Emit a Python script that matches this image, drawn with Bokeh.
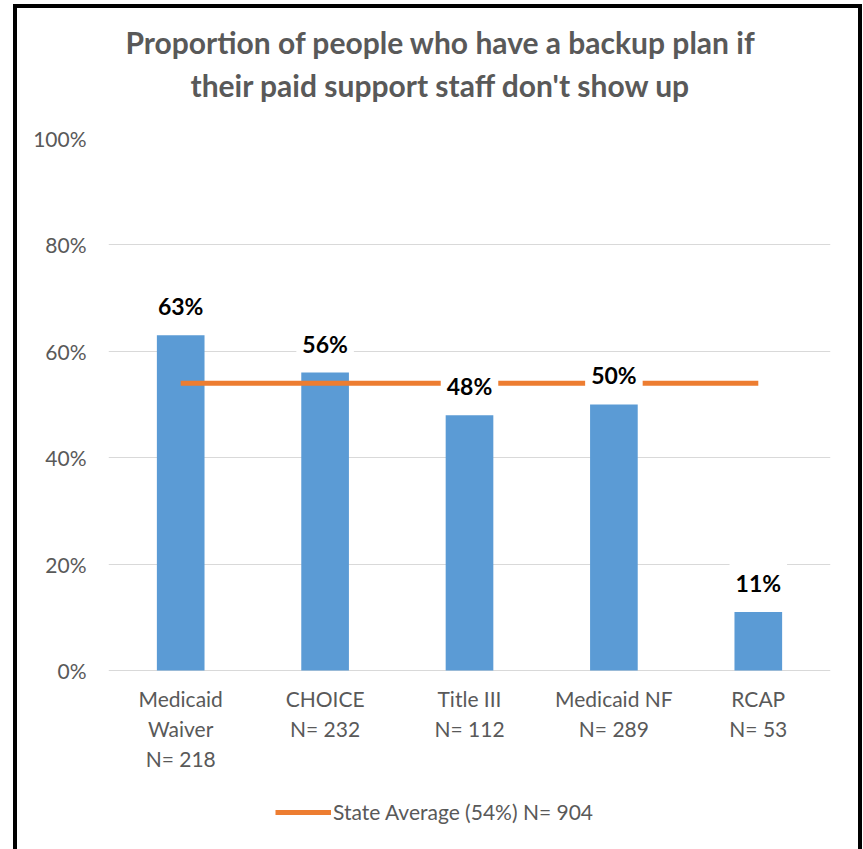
from bokeh.plotting import figure
from bokeh.models import ColumnDataSource, Title, Legend, LegendItem, FactorRange, NumeralTickFormatter
from bokeh.core.properties import value
from bokeh.embed import file_html
from bokeh.resources import INLINE

categories = ["Medicaid\nWaiver\nN= 218", "CHOICE\nN= 232", "Title III\nN= 112", "Medicaid NF\nN= 289", "RCAP\nN= 53"]
shares = [0.63, 0.56, 0.48, 0.50, 0.11]
share_labels = ["63%", "56%", "48%", "50%", "11%"]
state_average = 0.54
legend_text = "State Average (54%) N= 904"
title_lines = ["Proportion of people who have a backup plan if", "their paid support staff don't show up"]
y_ticks = [0, 0.2, 0.4, 0.6, 0.8, 1.0]

FONT = "Lato"
GRAY = "#595959"

src = ColumnDataSource(data=dict(cat=categories, val=shares, lab=share_labels, base=[0] * len(categories)))
avg_src = ColumnDataSource(data=dict(cat=categories, avg=[state_average] * len(categories)))

# frame extends below 0 so the category labels and legend sit inside it
p = figure(
    x_range=FactorRange(*categories, range_padding=0),
    y_range=(-0.3365, 1.0),
    frame_width=722, frame_height=711,
    min_border_left=91, min_border_top=130, min_border_right=28, min_border_bottom=0,
    output_backend="svg", toolbar_location=None,
    background_fill_color="white", border_fill_color="white",
)
p.styles = {"margin-left": "13px", "margin-top": "4px",
            "border-left": "4px solid black", "border-top": "4px solid black", "border-right": "4px solid black"}
p.outline_line_color = None

p.vbar(x="cat", top="val", width=0.33, source=src, fill_color="#5B9BD5", line_color=None)
avg_line = p.line(x="cat", y="avg", source=avg_src, line_color="#ED7D31", line_width=5)

p.text(x="cat", y="val", text="lab", source=src, y_offset=-9, text_align="center",
       text_baseline="bottom", text_font=value(FONT), text_font_size="23px",
       text_font_style="bold", text_color="black",
       background_fill_color="white", padding=6)

# category labels under the baseline
p.text(x="cat", y="base", text="cat", source=src, y_offset=16, text_align="center",
       text_baseline="top", text_font=value(FONT), text_font_size="21px",
       text_color=GRAY, text_line_height=1.2)

# title: spacer nearest the frame, then line 2, then line 1
p.add_layout(Title(text=" ", standoff=30, text_font_size="1px"), "above")
p.add_layout(Title(text=title_lines[1], align="left", offset=82, standoff=6,
                   text_font=FONT, text_font_size="30px", text_font_style="bold", text_color=GRAY), "above")
p.add_layout(Title(text=title_lines[0], align="left", offset=17, standoff=4,
                   text_font=FONT, text_font_size="30px", text_font_style="bold", text_color=GRAY), "above")

# axes
p.yaxis.ticker = y_ticks
p.yaxis.formatter = NumeralTickFormatter(format="0%")
p.yaxis.axis_line_color = None
p.yaxis.major_tick_line_color = None
p.yaxis.minor_tick_line_color = None
p.yaxis.major_label_standoff = 16
p.yaxis.major_label_text_font = FONT
p.yaxis.major_label_text_font_size = "21px"
p.yaxis.major_label_text_color = GRAY

p.xaxis.visible = False

p.xgrid.grid_line_color = None
p.ygrid.grid_line_color = "#D9D9D9"
p.ygrid.grid_line_width = 1

legend = Legend(items=[LegendItem(label=legend_text, renderers=[avg_line])], orientation="horizontal",
                location=(167, 25), label_text_font=FONT, label_text_font_size="21px",
                label_text_color=GRAY, glyph_width=56, glyph_height=20, label_height=20, label_standoff=2,
                border_line_color=None, background_fill_alpha=0, margin=0, padding=0, spacing=0)
p.add_layout(legend, "center")

open("out.html", "w").write(file_html(p, INLINE))
